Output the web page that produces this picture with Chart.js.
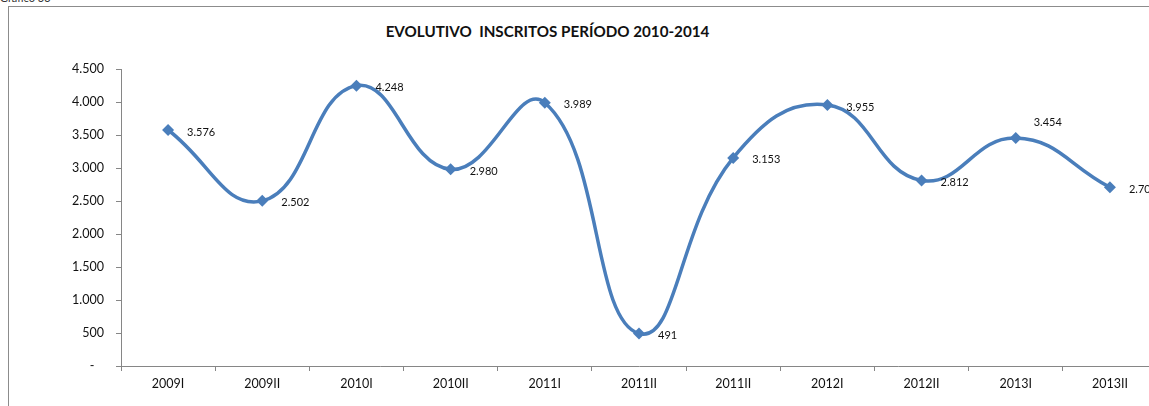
<!DOCTYPE html>
<html>
<head>
<meta charset="utf-8">
<script src="https://cdn.jsdelivr.net/npm/chart.js@4.4.1/dist/chart.umd.min.js"></script>
<style>
  html, body { margin: 0; padding: 0; background: #fff; overflow: hidden; }
  body { width: 1149px; height: 406px; position: relative; font-family: Lato, "Open Sans", sans-serif; }
  .caption { position: absolute; left: 0; top: -9px; font-size: 11px; color: #333; }
  .frame { position: absolute; left: 8px; top: 6px; width: 1200px; height: 420px; border: 1px solid #8c8c8c; }
  .title { position: absolute; left: 0; width: 1095px; top: 22px; text-align: center; font-weight: bold; font-size: 15.2px; color: #111; white-space: pre; }
  #chart { position: absolute; left: 9px; top: 7px; }
</style>
</head>
<body>
<div class="caption">Gráfico 33</div>
<div class="frame"></div>
<div class="title">EVOLUTIVO  INSCRITOS PERÍODO 2010-2014</div>
<canvas id="chart" width="1160" height="399"></canvas>
<script>
// Data

const periods = ['2009I', '2009II', '2010I', '2010II', '2011I', '2011II', '2011II', '2012I', '2012II', '2013I', '2013II'];
const inscritos = [3576, 2502, 4248, 2980, 3989, 491, 3153, 3955, 2812, 3454, 2708];
const yTicks = [0, 500, 1000, 1500, 2000, 2500, 3000, 3500, 4000, 4500];

const lineColor = '#4a7ebb';
const axisColor = '#868686';

function fmt(v) {
  if (v === 0) return '-   ';
  return String(v).replace(/\B(?=(\d{3})+(?!\d))/g, '.');
}

// Value labels next to each point
const pointLabels = {
  id: 'pointLabels',
  afterDatasetsDraw(chart) {
    const ctx = chart.ctx;
    const meta = chart.getDatasetMeta(0);
    ctx.save();
    ctx.font = '11px Lato, "Open Sans", sans-serif';
    ctx.fillStyle = '#111';
    ctx.textAlign = 'left';
    ctx.textBaseline = 'middle';
    meta.data.forEach((pt, i) => {
      const txt = fmt(inscritos[i]);
      if (i === 9) {
        ctx.fillText(txt, pt.x + 18, pt.y - 16);
      } else {
        ctx.fillText(txt, pt.x + 19, pt.y + 2);
      }
    });
    ctx.restore();
  }
};

const ctx = document.getElementById('chart').getContext('2d');

new Chart(ctx, {
  type: 'line',
  data: {
    labels: periods,
    datasets: [{
      data: inscritos,
      borderColor: lineColor,
      backgroundColor: lineColor,
      borderWidth: 3.5,
      tension: 0.45,
      pointStyle: 'rectRot',
      pointRadius: 6,
      pointBorderWidth: 0,
      fill: false
    }]
  },
  options: {
    responsive: false,
    animation: false,
    devicePixelRatio: 1,
    layout: { padding: { top: 62, right: 12, left: 0, bottom: 0 } },
    plugins: {
      legend: { display: false },
      title: { display: false },
      tooltip: { enabled: false }
    },
    scales: {
      x: {
        offset: true,
        afterFit(scale) { scale.height = 40; },
        grid: {
          offset: true,
          drawOnChartArea: false,
          drawTicks: true,
          tickLength: 5,
          color: axisColor
        },
        border: { color: axisColor, width: 1 },
        ticks: {
          color: '#111',
          font: { family: 'Lato, "Open Sans", sans-serif', size: 12.5 },
          padding: 5,
          maxRotation: 0,
          autoSkip: false
        }
      },
      y: {
        min: 0,
        max: 4500,
        afterFit(scale) { scale.width = 112; },
        afterBuildTicks(scale) { scale.ticks = yTicks.map(v => ({ value: v })); },
        grid: {
          drawOnChartArea: false,
          drawTicks: true,
          tickLength: 5,
          color: axisColor
        },
        border: { color: axisColor, width: 1 },
        ticks: {
          color: '#111',
          font: { family: 'Lato, "Open Sans", sans-serif', size: 12.5 },
          padding: 12,
          callback: (v) => fmt(v)
        }
      }
    }
  },
  plugins: [pointLabels]
});
</script>
</body>
</html>
